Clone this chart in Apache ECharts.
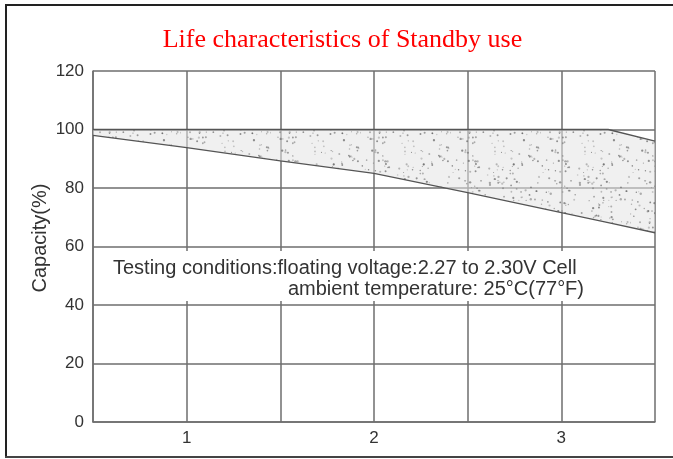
<!DOCTYPE html>
<html><head><meta charset="utf-8">
<script src="https://cdn.jsdelivr.net/npm/echarts@6/dist/echarts.min.js"></script>
<style>html,body{margin:0;padding:0;background:#fff}#c{width:673px;height:459px}</style>
</head><body><div id="c"></div>
<script>
// ---- data ----
const years = [0.5, 1, 1.5, 2, 2.5, 3, 3.25, 3.5];
const upperCapacity = [100, 100, 100, 100, 100, 100, 100, 96];
const lowerCapacity = [98, 93.8, 89.3, 85, 78.4, 71.6, 68.2, 64.7];
const xTickLabels = ['1', '2', '3'];
const yTickLabels = ['0', '20', '40', '60', '80', '100', '120'];
const titleText = 'Life characteristics of Standby use';
const yAxisName = 'Capacity(%)';
const noteLine1 = 'Testing conditions:floating voltage:2.27 to 2.30V Cell';
const noteLine2 = 'ambient temperature: 25°C(77°F)';

// ---- stipple pattern (texture only) ----
function makePattern() {
  const c = document.createElement('canvas');
  c.width = 90; c.height = 90;
  const g = c.getContext('2d');
  g.fillStyle = 'rgba(228,228,228,0.55)';
  g.fillRect(0, 0, 90, 90);
  let s = 12345;
  const next = () => { s = (s * 1103515245 + 12345) & 0x7fffffff; return s / 0x7fffffff; };
  for (let i = 0; i < 190; i++) {
    const x = next() * 90, y = next() * 90, r = 0.5 + next() * 0.7;
    g.fillStyle = 'rgba(100,100,100,' + (0.3 + next() * 0.45).toFixed(2) + ')';
    g.beginPath(); g.arc(x, y, r, 0, Math.PI * 2); g.fill();
  }
  return c;
}
const pat = makePattern();

const gridColor = '#6e6e6e';
const chart = echarts.init(document.getElementById('c'), null, {renderer: 'canvas'});
chart.setOption({
  animation: false,
  backgroundColor: '#fff',
  grid: {left: 93, right: 18, top: 71, bottom: 37, containLabel: false},
  xAxis: {
    type: 'value', min: 0.5, max: 3.5, interval: 0.5,
    axisLine: {show: true, lineStyle: {color: gridColor, width: 1.5}},
    axisTick: {show: false},
    splitLine: {show: true, lineStyle: {color: gridColor, width: 1.5}},
    axisLabel: {
      margin: 8, color: '#333', fontSize: 17, fontFamily: 'Liberation Sans, Arial, sans-serif',
      formatter: v => Number.isInteger(v) ? (xTickLabels[v - 1] || '') : ''
    }
  },
  yAxis: {
    type: 'value', min: 0, max: 120, interval: 20,
    axisLine: {show: true, lineStyle: {color: gridColor, width: 1.5}},
    axisTick: {show: false},
    splitLine: {show: true, lineStyle: {color: gridColor, width: 1.5}},
    axisLabel: {
      margin: 9, color: '#333', fontSize: 17, fontFamily: 'Liberation Sans, Arial, sans-serif',
      formatter: v => yTickLabels[v / 20]
    }
  },
  series: [
    {
      type: 'custom', z: 2,
      data: years.map((x, i) => [x, lowerCapacity[i], upperCapacity[i]]),
      encode: {x: 0, y: [1, 2]},
      renderItem: function (params, api) {
        if (params.dataIndex !== 0) return null;
        const pts = [];
        for (let i = 0; i < years.length; i++) pts.push(api.coord([years[i], upperCapacity[i]]));
        for (let i = years.length - 1; i >= 0; i--) pts.push(api.coord([years[i], lowerCapacity[i]]));
        return {type: 'polygon', shape: {points: pts}, style: {fill: {image: pat, repeat: 'repeat'}}};
      }
    },
    {
      type: 'line', symbol: 'none', z: 3,
      data: years.map((x, i) => [x, lowerCapacity[i]]),
      lineStyle: {color: '#555', width: 1.3}
    },
    {
      type: 'line', symbol: 'none', z: 3,
      data: years.map((x, i) => [x, upperCapacity[i]]),
      lineStyle: {color: '#555', width: 1.3}
    }
  ],
  graphic: [
    {type: 'line', shape: {x1: 5, y1: 5, x2: 673, y2: 5}, style: {stroke: '#222', lineWidth: 2}, z: 10},
    {type: 'line', shape: {x1: 6, y1: 4, x2: 6, y2: 458}, style: {stroke: '#222', lineWidth: 2}, z: 10},
    {type: 'line', shape: {x1: 5, y1: 457, x2: 673, y2: 457}, style: {stroke: '#444', lineWidth: 2}, z: 10},
    {type: 'text', x: 342.5, y: 40, z: 10,
      style: {text: titleText, fill: '#ff0000', font: '26px "Liberation Serif", "Times New Roman", serif', textAlign: 'center', textVerticalAlign: 'middle'}},
    {type: 'text', x: 40, y: 238, rotation: Math.PI / 2, z: 10,
      style: {text: yAxisName, fill: '#333', font: '20px "Liberation Sans", Arial, sans-serif', textAlign: 'center', textVerticalAlign: 'middle'}},
    {type: 'rect', shape: {x: 95, y: 251, width: 558, height: 50}, style: {fill: '#fff'}, z: 5},
    {type: 'text', x: 113, y: 268, z: 6,
      style: {text: noteLine1, fill: '#333', font: '20px "Liberation Sans", Arial, sans-serif', textAlign: 'left', textVerticalAlign: 'middle'}},
    {type: 'text', x: 584, y: 289, z: 6,
      style: {text: noteLine2, fill: '#333', font: '20px "Liberation Sans", Arial, sans-serif', textAlign: 'right', textVerticalAlign: 'middle'}}
  ]
});
</script></body></html>
